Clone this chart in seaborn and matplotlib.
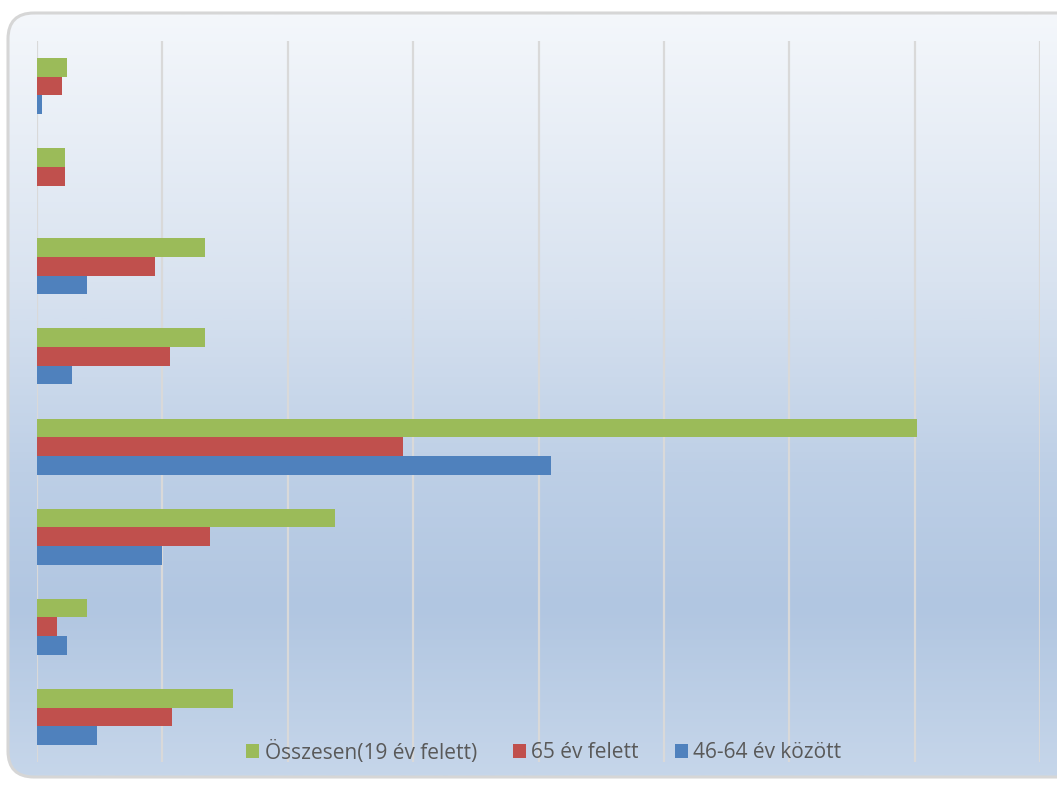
import numpy as np
import pandas as pd
import matplotlib
matplotlib.use("Agg")
import matplotlib.pyplot as plt
import seaborn as sns
from matplotlib.patches import FancyBboxPatch, Patch
from matplotlib.colors import LinearSegmentedColormap

# ---- data (gridline spacing = 5 units) ----
categories = ["1", "2", "3", "4", "5", "6", "7", "8"]
series_names = ["Összesen(19 év felett)", "65 év felett", "46-64 év között"]
osszesen = [1.2, 1.1, 6.7, 6.7, 35.1, 11.9, 2.0, 7.8]
felett65 = [1.0, 1.1, 4.7, 5.3, 14.6, 6.9, 0.8, 5.4]
kozott46_64 = [0.2, 0.0, 2.0, 1.4, 20.5, 5.0, 1.2, 2.4]
colors = ["#9bbb59", "#c0504d", "#4f81bd"]

df = pd.DataFrame({
    "cat": categories * 3,
    "series": [series_names[0]] * 8 + [series_names[1]] * 8 + [series_names[2]] * 8,
    "value": osszesen + felett65 + kozott46_64,
})

sns.set_theme(style="white")
plt.rcParams["font.family"] = ["Open Sans", "DejaVu Sans"]

W, H = 1057, 785
fig = plt.figure(figsize=(W / 100, H / 100), dpi=100)
fig.patch.set_facecolor("white")

# ---- background with rounded frame and gradient ----
bg = fig.add_axes([0, 0, 1, 1], zorder=-5)
bg.set_xlim(0, W)
bg.set_ylim(H, 0)
bg.axis("off")
frame = FancyBboxPatch((8, 13), 1200, 764, boxstyle="round,pad=0,rounding_size=26",
                       facecolor="none", edgecolor="#d6d6d6", linewidth=2.2, zorder=3)
bg.add_patch(frame)
cmap = LinearSegmentedColormap.from_list(
    "g", [(0.0, "#f4f7fb"), (0.35, "#d9e3f0"), (0.6, "#bdcfe6"),
          (0.78, "#b1c6e1"), (1.0, "#c6d6ea")])
grad = np.linspace(0, 1, 400).reshape(-1, 1)
im = bg.imshow(grad, cmap=cmap, aspect="auto", extent=(8, 1208, 777, 13), zorder=1)
clip = FancyBboxPatch((8, 13), 1200, 764, boxstyle="round,pad=0,rounding_size=26",
                      transform=bg.transData, facecolor="none", edgecolor="none")
bg.add_patch(clip)
im.set_clip_path(clip)

# ---- main chart ----
ax = fig.add_axes([37 / W, 1 - 762 / H, (1040 - 37) / W, (762 - 41) / H])
ax.set_facecolor("none")
sns.barplot(data=df, y="cat", x="value", hue="series", hue_order=series_names,
            order=categories, palette=colors, orient="h", width=0.62,
            linewidth=0, saturation=1, ax=ax, legend=False)
ax.set_xlim(0, 40)
ax.set_xticks(np.arange(0, 41, 5))
ax.grid(axis="x", color="#d9d9d9", linewidth=1.6, zorder=0)
ax.grid(axis="y", visible=False)
ax.set_axisbelow(True)
for s in ax.spines.values():
    s.set_visible(False)
ax.set_xticklabels([])
ax.set_yticklabels([])
ax.tick_params(left=False, bottom=False)
ax.set_xlabel("")
ax.set_ylabel("")

handles = [Patch(facecolor=c, edgecolor="none") for c in colors]
leg = fig.legend(handles, series_names, loc="center", ncol=3,
                 bbox_to_anchor=(544 / W, 1 - 752 / H), frameon=False,
                 fontsize=15, handlelength=0.62, handleheight=0.62,
                 handletextpad=0.25, columnspacing=1.75, borderpad=0)
for t in leg.get_texts():
    t.set_color("#595959")

fig.savefig("out.png", dpi=100)
